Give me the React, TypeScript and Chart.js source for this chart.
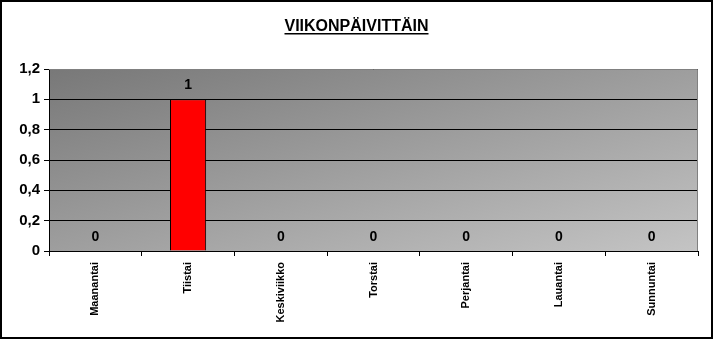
import React, { useEffect, useRef } from "react";
import { Chart, registerables } from "chart.js";

Chart.register(...registerables);

const TITLE = "VIIKONPÄIVITTÄIN";
const categories = ["Maanantai", "Tiistai", "Keskiviikko", "Torstai", "Perjantai", "Lauantai", "Sunnuntai"];
const values = [0, 1, 0, 0, 0, 0, 0];
const yTicks = [0, 0.2, 0.4, 0.6, 0.8, 1, 1.2];
const yTickLabels = ["0", "0,2", "0,4", "0,6", "0,8", "1", "1,2"];

const W = 713;
const H = 339;

const decorPlugin = {
  id: "decor",
  beforeDraw(chart: any) {
    const { ctx, chartArea: a } = chart;
    ctx.save();
    ctx.fillStyle = "#ffffff";
    ctx.fillRect(0, 0, chart.width, chart.height);
    const w = a.right - a.left;
    const h = a.bottom - a.top;
    const t = (2 * w * h) / (h * h + w * w);
    const g = ctx.createLinearGradient(a.left, a.top, a.left + t * h, a.top + t * w);
    g.addColorStop(0, "#787878");
    g.addColorStop(1, "#c4c4c4");
    ctx.fillStyle = g;
    ctx.fillRect(a.left, a.top, w, h);
    ctx.restore();
  },
  afterDraw(chart: any) {
    const { ctx, chartArea: a } = chart;
    ctx.save();
    ctx.strokeStyle = "#808080";
    ctx.lineWidth = 1;
    ctx.beginPath();
    ctx.moveTo(a.left, a.top + 0.5);
    ctx.lineTo(a.right - 0.5, a.top + 0.5);
    ctx.lineTo(a.right - 0.5, a.bottom);
    ctx.stroke();
    ctx.fillStyle = "#000";
    ctx.font = "bold 16px 'Liberation Sans', Arial, sans-serif";
    ctx.textAlign = "center";
    ctx.textBaseline = "alphabetic";
    const cx = chart.width / 2;
    ctx.fillText(TITLE, cx, 31);
    const tw = ctx.measureText(TITLE).width;
    ctx.fillRect(cx - tw / 2, 33, tw, 1.5);
    const meta = chart.getDatasetMeta(0);
    ctx.font = "bold 14px 'Liberation Sans', Arial, sans-serif";
    ctx.textBaseline = "middle";
    meta.data.forEach((el: any, i: number) => {
      const v = values[i];
      ctx.fillText(String(v).replace(".", ","), el.x, el.y - 14);
    });
    ctx.strokeStyle = "#000";
    ctx.lineWidth = 2;
    ctx.strokeRect(1, 1, chart.width - 2, chart.height - 2);
    ctx.restore();
  },
};

export default function App() {
  const ref = useRef<HTMLCanvasElement | null>(null);
  useEffect(() => {
    document.body.style.margin = "0";
    const chart = new Chart(ref.current as HTMLCanvasElement, {
      type: "bar",
      data: {
        labels: categories,
        datasets: [
          {
            data: values,
            backgroundColor: "#ff0000",
            borderColor: "#000000",
            borderWidth: 1,
            barPercentage: 0.39,
            categoryPercentage: 1,
          },
        ],
      },
      options: {
        animation: false,
        responsive: false,
        maintainAspectRatio: false,
        layout: { padding: { top: 69, right: 15, left: 0, bottom: 0 } },
        plugins: {
          legend: { display: false },
          tooltip: { enabled: false },
          title: { display: false },
        },
        scales: {
          x: {
            afterFit(scale: any) {
              scale.height = 88;
            },
            grid: {
              offset: true,
              drawOnChartArea: false,
              drawTicks: true,
              tickLength: 5,
              color: "#000",
            },
            border: { display: true, color: "#000", width: 1 },
            ticks: {
              maxRotation: 90,
              minRotation: 90,
              autoSkip: false,
              padding: 6,
              color: "#000",
              font: { family: "'Liberation Sans', Arial, sans-serif", size: 11, weight: "bold" },
            },
          },
          y: {
            min: 0,
            max: 1.2,
            afterFit(scale: any) {
              scale.width = 49;
            },
            afterBuildTicks(scale: any) {
              scale.ticks = yTicks.map((v) => ({ value: v }));
            },
            grid: {
              color: "#000",
              lineWidth: 1,
              drawTicks: true,
              tickLength: 5,
            },
            border: { display: true, color: "#000", width: 1 },
            ticks: {
              padding: 4,
              color: "#000",
              font: { family: "'Liberation Sans', Arial, sans-serif", size: 15, weight: "bold" },
              callback: (v: any) => {
                const i = yTicks.findIndex((t) => Math.abs(t - Number(v)) < 1e-9);
                return i >= 0 ? yTickLabels[i] : "";
              },
            },
          },
        },
      },
      plugins: [decorPlugin],
    } as any);
    return () => chart.destroy();
  }, []);
  return (
    <div style={{ position: "fixed", left: 0, top: 0, width: W, height: H }}>
      <canvas ref={ref} width={W} height={H} style={{ width: W, height: H, display: "block" }} />
    </div>
  );
}
